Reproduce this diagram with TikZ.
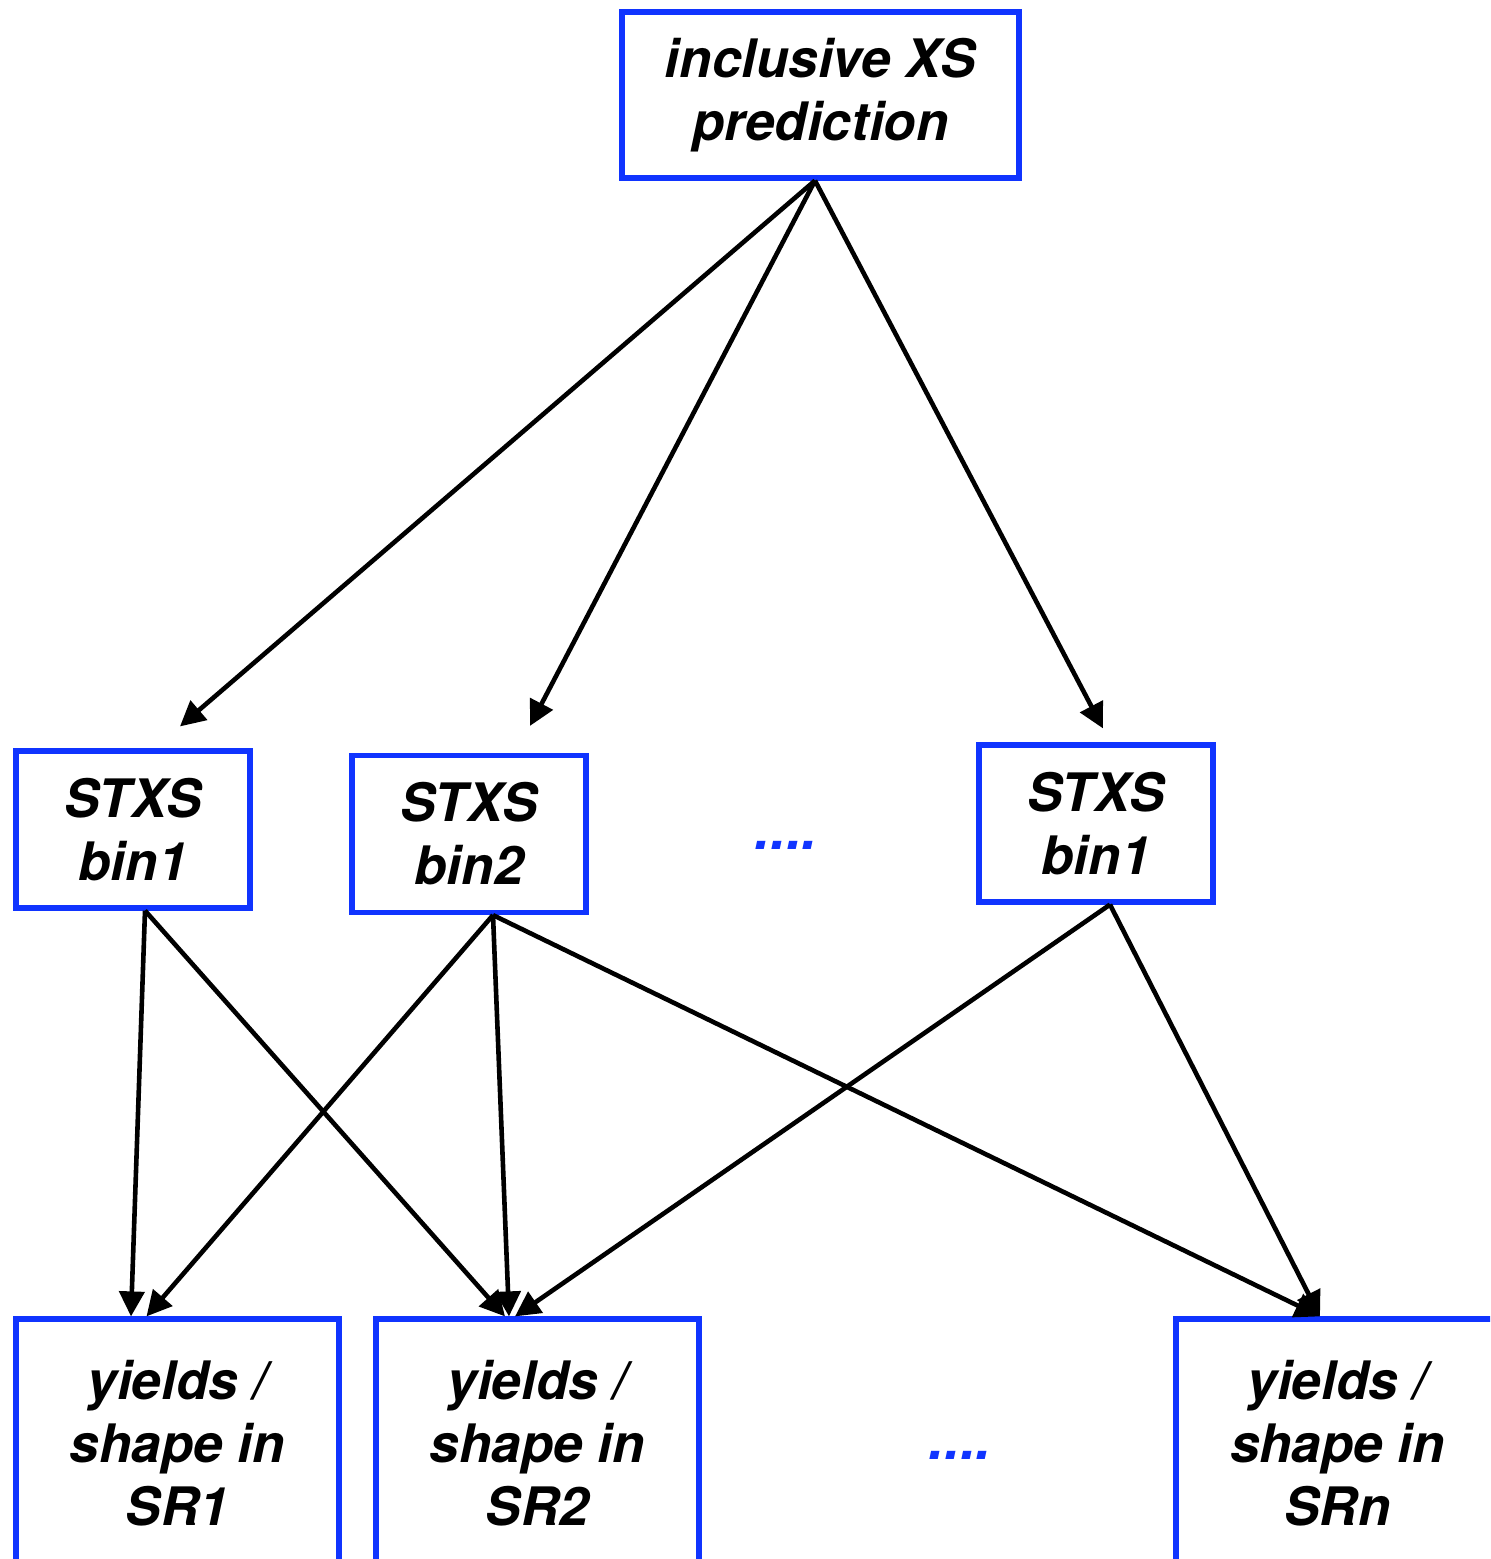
\documentclass[tikz,border=0pt]{standalone}
\usepackage{fontspec}
\setmainfont{TeX Gyre Heros}
\usetikzlibrary{positioning,arrows.meta,calc}
\definecolor{boxblue}{RGB}{16,52,255}
\tikzstyle{arrow} = [line width=2.3pt,-{Triangle[length=12.5pt,width=12.5pt]}]
\tikzstyle{box} = [draw=boxblue,line width=2.6pt,inner sep=0pt,align=center,font=\fontsize{26.5pt}{31.5pt}\selectfont\bfseries\itshape]

\begin{document}
\begin{tikzpicture}[x=0.5pt,y=-0.5pt]
\useasboundingbox (0,0) rectangle (1490,1559);
\clip (0,0) rectangle (1490,1559);
\tikzstyle{bin} = [box,minimum width=117pt,minimum height=78.5pt]
\tikzstyle{region} = [box,minimum width=161.5pt,minimum height=124pt]
\tikzstyle{dots} = [text=boxblue,font=\fontsize{28pt}{30pt}\selectfont\bfseries\itshape]

% prediction on top
\node[box,minimum width=198.5pt,minimum height=83pt] (incl) at (820.5,95) {inclusive XS\\prediction};

% STXS bins
\node[bin] (bin1) at (133,829.5) {STXS\\bin1};
\node[bin] (bin2) at (469,834) {STXS\\bin2};
\node[bin] (binn) at (1096,823.5) {STXS\\bin1};
\node[dots] (dots1) at (786,845) {....};

% signal regions
\node[region] (sr1) at (177.5,1443) {yields /\\shape in\\SR1};
\node[region] (sr2) at (537.5,1443) {yields /\\shape in\\SR2};
\node[region] (srn) at (1337.5,1443) {yields /\\shape in\\SRn};
\node[dots] (dots2) at (960,1455) {....};

% inclusive -> bins
\draw[arrow] ($(incl.south)+(-5.5,0)$) -- ($(bin1.north)+(47,-22)$);
\draw[arrow] ($(incl.south)+(-5.5,0)$) -- ($(bin2.north)+(61,-27)$);
\draw[arrow] ($(incl.south)+(-5.5,0)$) -- ($(binn.north)+(7,-14)$);

% bins -> regions
\draw[arrow] ($(bin1.south)+(12,0)$) -- ($(sr1.north)+(-46.5,0)$);
\draw[arrow] ($(bin1.south)+(12,0)$) -- ($(sr2.north)+(-32.5,0)$);
\draw[arrow] ($(bin2.south)+(24,0)$) -- ($(sr1.north)+(-31,0)$);
\draw[arrow] ($(bin2.south)+(24,0)$) -- ($(sr2.north)+(-28.5,0)$);
\draw[arrow] ($(bin2.south)+(24,0)$) -- ($(srn.north)+(-17.5,0)$);
\draw[arrow] ($(binn.south)+(14,0)$) -- ($(sr2.north)+(-22.5,0)$);
\draw[arrow] ($(binn.south)+(14,0)$) -- ($(srn.north)+(-17.5,0)$);
\end{tikzpicture}
\end{document}
